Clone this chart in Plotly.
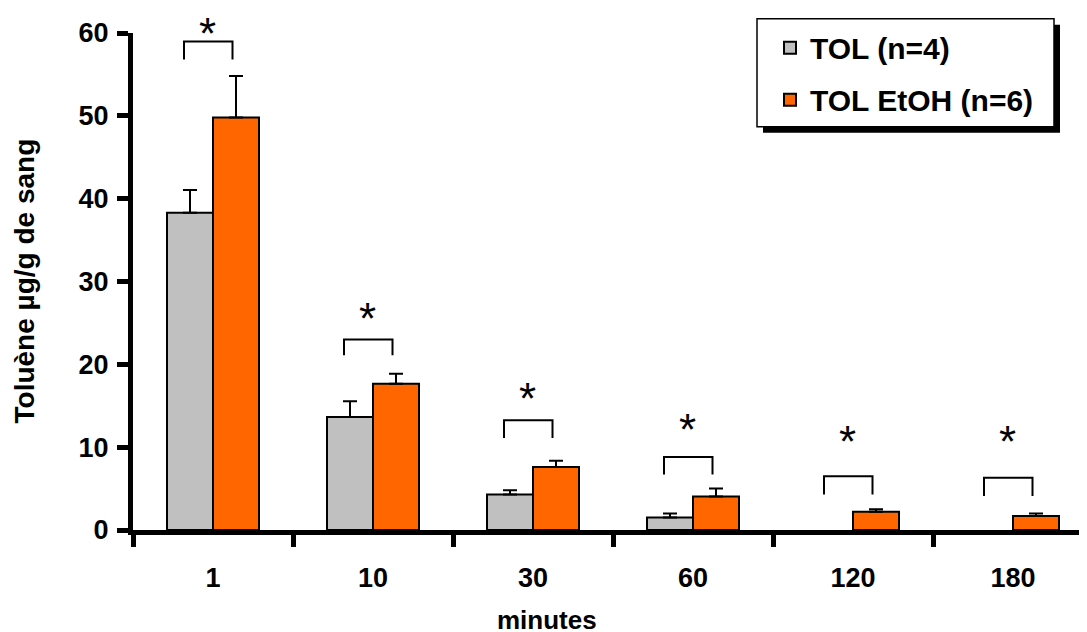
import plotly.graph_objects as go

# ---- data ----
minutes = ["1", "10", "30", "60", "120", "180"]
tol = [38.3, 13.65, 4.3, 1.5, None, None]
tol_err = [2.75, 1.9, 0.5, 0.48, None, None]
tol_etoh = [49.8, 17.65, 7.6, 4.05, 2.2, 1.7]
tol_etoh_err = [5.0, 1.2, 0.75, 0.95, 0.3, 0.3]
y_ticks = [0, 10, 20, 30, 40, 50, 60]

# significance annotation levels (data units)
bracket_top = [58.96, 23.0, 13.25, 8.8, 6.5, 6.3]
bracket_bottom = [56.8, 21.1, 11.1, 6.7, 4.3, 4.1]
star_level = [61.2, 26.8, 17.1, 13.35, 11.85, 11.85]

# ---- layout geometry (window pixels; page has an 8px body margin) ----
OFF = 8
W, H = 1087 - OFF, 632 - OFF
AX_X, AX_TOP, AX_BOT = 133, 33.3, 529.6          # window coords of plot area
L, T = AX_X - OFF, AX_TOP - OFF
B = H - (AX_BOT - OFF)
R = 0
PW, PH = W - L - R, H - T - B
CAT_PX = 160.0
YMAX = 60

def px_x(px):
    return (px - AX_X) / PW

def px_y(py):
    return (AX_BOT - py) / PH

GRAY = "#C0C0C0"
ORANGE = "#FF6600"
FONT = "Liberation Sans, Arial, sans-serif"

fig = go.Figure()
fig.add_trace(go.Bar(
    x=minutes, y=tol, name="TOL (n=4)", legendgroup="a",
    marker=dict(color=GRAY, line=dict(color="black", width=2)),
    error_y=dict(type="data", array=tol_err, arrayminus=[0] * len(tol_err),
                 symmetric=False, color="black", thickness=2, width=7),
))
fig.add_trace(go.Bar(
    x=minutes, y=tol_etoh, name="TOL EtOH (n=6)", legendgroup="b",
    marker=dict(color=ORANGE, line=dict(color="black", width=2)),
    error_y=dict(type="data", array=tol_etoh_err, arrayminus=[0] * len(tol_etoh_err),
                 symmetric=False, color="black", thickness=2, width=7),
))

shapes = []
annotations = []
left_off = -29.0 / CAT_PX
right_off = 19.5 / CAT_PX
star_off = -6.0 / CAT_PX
for i in range(len(minutes)):
    xl, xr = i + left_off, i + right_off
    shapes.append(dict(
        type="path", xref="x", yref="y",
        path=f"M {xl} {bracket_bottom[i]} L {xl} {bracket_top[i]} L {xr} {bracket_top[i]} L {xr} {bracket_bottom[i]}",
        line=dict(color="black", width=2),
    ))
    annotations.append(dict(
        x=i + star_off, y=star_level[i] / YMAX, xref="x", yref="paper", text="*",
        showarrow=False, xanchor="center", yanchor="middle", yshift=-10,
        font=dict(family=FONT, size=44, color="black"),
    ))

# legend box with shadow
lx0, ly0, lx1, ly1 = 757, 19, 1054, 127
shapes.append(dict(type="rect", xref="paper", yref="paper",
                   x0=px_x(lx0 + 6), x1=px_x(lx1 + 6), y0=px_y(ly1 + 6), y1=px_y(ly0 + 6),
                   fillcolor="black", line=dict(width=0)))
shapes.append(dict(type="rect", xref="paper", yref="paper",
                   x0=px_x(lx0), x1=px_x(lx1), y0=px_y(ly1), y1=px_y(ly0),
                   fillcolor="white", line=dict(color="black", width=1.5)))

# axis titles
annotations.append(dict(
    x=px_x(24), y=0.5, xref="paper", yref="paper", text="<b>Toluène µg/g de sang</b>",
    textangle=-90, showarrow=False, xanchor="center", yanchor="middle",
    font=dict(family=FONT, size=28, color="black"),
))
annotations.append(dict(
    x=px_x(546.5), y=px_y(619), xref="paper", yref="paper", text="<b>minutes</b>",
    showarrow=False, xanchor="center", yanchor="middle",
    font=dict(family=FONT, size=26, color="black"),
))

fig.update_layout(
    width=W, height=H,
    margin=dict(l=L, r=R, t=T, b=B, autoexpand=False),
    paper_bgcolor="white", plot_bgcolor="white",
    barmode="group", bargap=0.425, bargroupgap=0,
    font=dict(family=FONT, color="black"),
    showlegend=True,
    legend=dict(
        xref="paper", yref="paper",
        x=px_x(lx0 + 13), y=px_y(ly0 + 3), xanchor="left", yanchor="top",
        bgcolor="rgba(0,0,0,0)", borderwidth=0,
        font=dict(family=FONT, size=30, color="black", weight="bold"),
        tracegroupgap=10, traceorder="grouped",
    ),
    shapes=shapes,
    annotations=annotations,
)
fig.update_xaxes(
    type="category", range=[-0.5, -0.5 + PW / CAT_PX],
    showline=True, linecolor="black", linewidth=5,
    ticks="outside", tickson="boundaries", ticklen=12, tickwidth=5, tickcolor="black",
    tickfont=dict(family=FONT, size=27, color="black", weight="bold"),
    ticklabelstandoff=20, showgrid=False, zeroline=False,
)
fig.update_yaxes(
    range=[0, YMAX], tickvals=y_ticks,
    showline=True, linecolor="black", linewidth=5,
    ticks="outside", ticklen=11, tickwidth=5, tickcolor="black",
    tickfont=dict(family=FONT, size=27, color="black", weight="bold"),
    ticklabelstandoff=3, showgrid=False, zeroline=False,
)

fig.write_html("out.html")
